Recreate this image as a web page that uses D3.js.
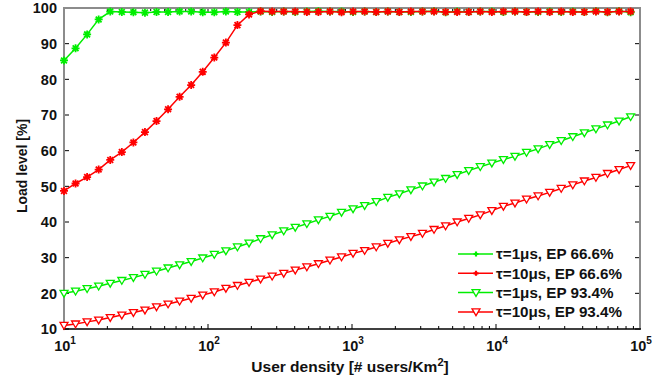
<!DOCTYPE html>
<html>
<head>
<meta charset="utf-8">
<script src="https://cdn.jsdelivr.net/npm/d3@7"></script>
<style>
  body { margin: 0; background: #fff; }
  text { font-family: "Liberation Sans", Arial, sans-serif; font-weight: bold; fill: #111; }
</style>
</head>
<body>
<svg id="chart" width="671" height="381"></svg>
<script>
// user density samples (log spaced)
const density = [10, 12.03, 14.47, 17.41, 20.95, 25.21, 30.33, 36.49, 43.9, 52.8,
  63.5, 76.4, 91.9, 110.6, 133.1, 160.1, 192.7, 231.8, 278.9, 335.6,
  403.6, 485.7, 584.3, 703, 845.8, 1017, 1224, 1473, 1772, 2132,
  2564, 3085, 3712, 4466, 5373, 6464, 7777, 9357, 11257, 13544,
  16293, 19604, 23585, 28375, 34138, 41075, 49418, 59457, 71532, 86060];

// tau=1us, EP 66.6%
const g666 = [85.3, 88.7, 92.6, 96.8, 99.0, 98.9, 98.8, 98.7, 98.9, 98.9,
  99.0, 99.0, 98.8, 98.8, 99.0, 98.9, 98.9, 99.0, 98.9, 99.0,
  98.9, 99.0, 99.1, 99.0, 99.0, 98.9, 99.0, 98.9, 99.0, 98.9,
  98.9, 99.0, 99.1, 98.8, 99.0, 98.9, 99.0, 99.0, 98.9, 99.0,
  98.9, 98.9, 99.0, 98.9, 99.0, 98.9, 99.1, 98.8, 99.1, 98.8];

// tau=10us, EP 66.6%
const r666 = [48.7, 50.8, 52.6, 54.7, 57.4, 59.6, 62.3, 65.2, 68.3, 71.6,
  75.1, 78.4, 82.1, 86.1, 90.3, 95.2, 98.2, 99.1, 99.0, 99.0,
  99.0, 98.9, 98.9, 99.0, 98.8, 99.0, 99.0, 98.9, 99.0, 98.9,
  99.0, 99.0, 99.0, 98.9, 98.9, 98.9, 99.0, 98.9, 99.0, 99.0,
  98.9, 99.0, 98.9, 99.0, 98.9, 98.9, 99.0, 98.9, 99.0, 99.0];

// tau=1us, EP 93.4%
const g934 = [20.0, 20.6, 21.3, 22.0, 22.8, 23.6, 24.4, 25.3, 26.2, 27.1,
  28.0, 28.9, 29.9, 30.9, 31.9, 33.0, 34.1, 35.3, 36.4, 37.5,
  38.5, 39.5, 40.6, 41.6, 42.7, 43.7, 44.6, 45.7, 46.9, 47.9,
  49.0, 50.1, 51.2, 52.2, 53.3, 54.4, 55.5, 56.5, 57.5, 58.4,
  59.5, 60.5, 61.7, 62.8, 63.9, 65.0, 66.1, 67.2, 68.3, 69.5];

// tau=10us, EP 93.4%
const r934 = [11.0, 11.4, 12.0, 12.5, 13.2, 13.9, 14.6, 15.3, 16.2, 17.0,
  17.8, 18.6, 19.5, 20.4, 21.4, 22.2, 23.1, 24.0, 24.8, 25.6,
  26.5, 27.4, 28.3, 29.3, 30.2, 31.2, 32.0, 33.0, 34.0, 35.0,
  35.9, 36.8, 37.9, 38.9, 40.0, 41.0, 42.0, 43.2, 44.4, 45.3,
  46.4, 47.3, 48.3, 49.4, 50.4, 51.5, 52.5, 53.6, 54.7, 55.8];

const yTicks = [10, 20, 30, 40, 50, 60, 70, 80, 90, 100];
const xDecades = [1, 2, 3, 4, 5];
const legendLabels = ["τ=1μs, EP 66.6%", "τ=10μs, EP 66.6%", "τ=1μs, EP 93.4%", "τ=10μs, EP 93.4%"];

const series = [
  { name: legendLabels[0], values: g666, color: "#00ee00", marker: "star" },
  { name: legendLabels[1], values: r666, color: "#ff0000", marker: "star" },
  { name: legendLabels[2], values: g934, color: "#00ee00", marker: "tri" },
  { name: legendLabels[3], values: r934, color: "#ff0000", marker: "tri" }
];

const m = { left: 64, right: 640, top: 8, bottom: 329 };

const x = d3.scaleLog().domain([10, 1e5]).range([m.left, m.right]);
const y = d3.scaleLinear().domain([10, 100]).range([m.bottom, m.top]);

const svg = d3.select("#chart");

// markers
const starPath = "M-4,0L4,0M0,-4L0,4M-2.9,-2.9L2.9,2.9M-2.9,2.9L2.9,-2.9";
const triPath = "M-4,-3L4,-3L0,3.8Z";

// minor / major x ticks (inside, bottom and top)
const minor = [];
for (let d = 1; d < 5; d++) {
  for (let k = 2; k <= 9; k++) minor.push(k * Math.pow(10, d));
}
const tickG = svg.append("g");
minor.forEach(v => {
  tickG.append("line").attr("x1", x(v)).attr("x2", x(v)).attr("y1", m.bottom).attr("y2", m.bottom - 3).attr("stroke", "#000");
  tickG.append("line").attr("x1", x(v)).attr("x2", x(v)).attr("y1", m.top).attr("y2", m.top + 3).attr("stroke", "#000");
});
xDecades.forEach(e => {
  const v = Math.pow(10, e);
  tickG.append("line").attr("x1", x(v)).attr("x2", x(v)).attr("y1", m.bottom).attr("y2", m.bottom - 5).attr("stroke", "#000");
  tickG.append("line").attr("x1", x(v)).attr("x2", x(v)).attr("y1", m.top).attr("y2", m.top + 5).attr("stroke", "#000");
});
yTicks.forEach(v => {
  tickG.append("line").attr("x1", m.left).attr("x2", m.left + 5).attr("y1", y(v)).attr("y2", y(v)).attr("stroke", "#000");
  tickG.append("line").attr("x1", m.right).attr("x2", m.right - 5).attr("y1", y(v)).attr("y2", y(v)).attr("stroke", "#000");
});

// frame: grey box, black bottom axis
svg.append("path")
  .attr("d", `M${m.left},${m.bottom}L${m.left},${m.top}L${m.right},${m.top}L${m.right},${m.bottom}`)
  .attr("fill", "none").attr("stroke", "#8c8c8c").attr("stroke-width", 2);
svg.append("line")
  .attr("x1", m.left - 1).attr("x2", m.right + 1).attr("y1", m.bottom).attr("y2", m.bottom)
  .attr("stroke", "#000").attr("stroke-width", 1.5);

// y tick labels
svg.append("g").selectAll("text").data(yTicks).join("text")
  .attr("x", m.left - 7).attr("y", d => y(d)).attr("dy", "0.36em")
  .attr("text-anchor", "end").attr("font-size", 14.5)
  .text(d => d);

// x tick labels 10^n
const xl = svg.append("g").selectAll("text").data(xDecades).join("text")
  .attr("x", d => x(Math.pow(10, d)) + 1).attr("y", 351)
  .attr("text-anchor", "middle").attr("font-size", 14.5);
xl.append("tspan").text("10");
xl.append("tspan").attr("font-size", 10).attr("dy", -7).text(d => d);

// axis titles
svg.append("text").attr("x", 350).attr("y", 372).attr("text-anchor", "middle").attr("font-size", 15.5)
  .call(t => {
    t.append("tspan").text("User density [# users/Km");
    t.append("tspan").attr("font-size", 11).attr("dy", -6).text("2");
    t.append("tspan").attr("dy", 6).text("]");
  });
svg.append("text").attr("transform", "translate(27,166) rotate(-90)")
  .attr("text-anchor", "middle").attr("font-size", 14)
  .text("Load level [%]");

// plot the series
const line = d3.line().x((d, i) => x(density[i])).y(d => y(d));
const plotG = svg.append("g");
series.forEach(s => {
  plotG.append("path").datum(s.values).attr("d", line)
    .attr("fill", "none").attr("stroke", s.color).attr("stroke-width", 1.5);
  plotG.append("g").selectAll("path").data(s.values).join("path")
    .attr("transform", (d, i) => `translate(${x(density[i])},${y(d)})`)
    .attr("d", s.marker === "star" ? starPath : triPath)
    .attr("fill", s.marker === "star" ? "none" : "#fff")
    .attr("stroke", s.color).attr("stroke-width", s.marker === "star" ? 1.8 : 1.3);
});

// legend
const lg = svg.append("g");
series.forEach((s, i) => {
  const ly = 254 + i * 19.3;
  lg.append("line").attr("x1", 458).attr("x2", 493).attr("y1", ly).attr("y2", ly)
    .attr("stroke", s.color).attr("stroke-width", 1.5);
  lg.append("path").attr("transform", `translate(476,${ly})`)
    .attr("d", s.marker === "star" ? "M-2.5,0L2.5,0M0,-2.5L0,2.5" : triPath)
    .attr("fill", s.marker === "star" ? "none" : "#fff")
    .attr("stroke", s.color).attr("stroke-width", s.marker === "star" ? 2.2 : 1.3);
  lg.append("text").attr("x", 496).attr("y", ly).attr("dy", "0.36em").attr("font-size", 15.2)
    .text(s.name);
});
</script>
</body>
</html>
